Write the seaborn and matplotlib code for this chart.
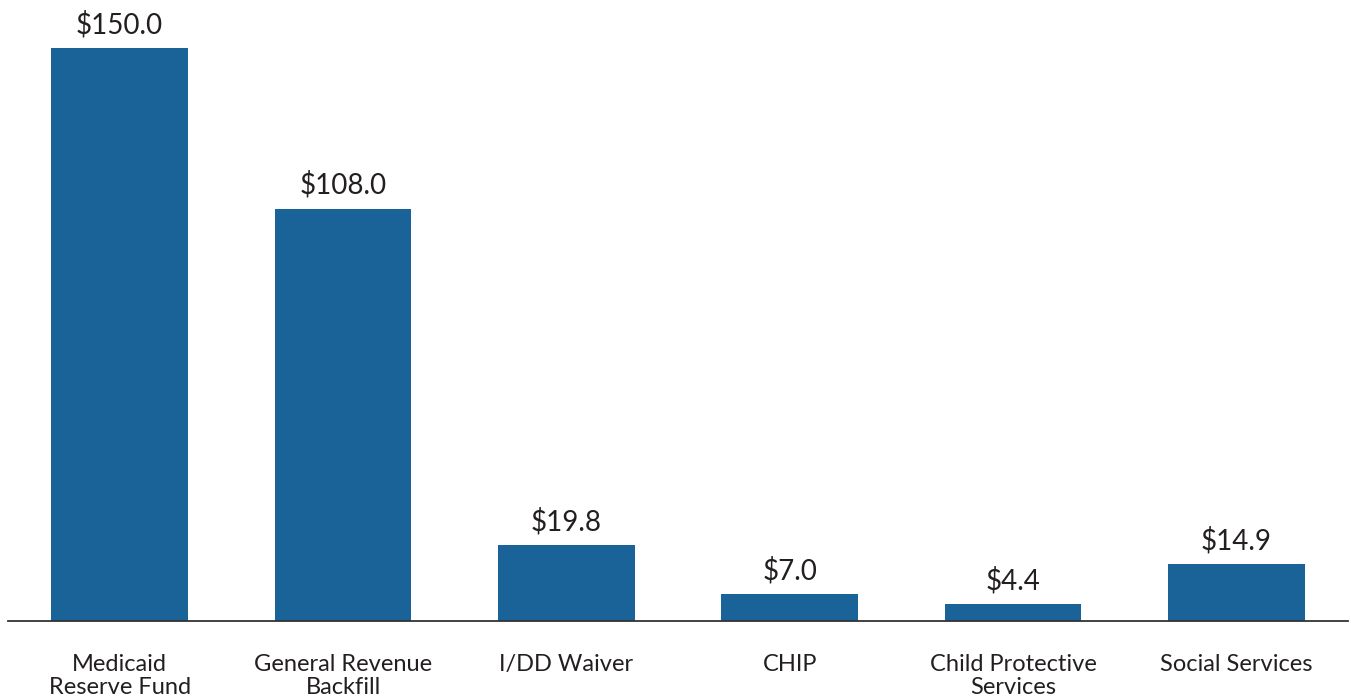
import matplotlib
matplotlib.use("Agg")
import matplotlib.pyplot as plt
import seaborn as sns
import pandas as pd

categories = ["Medicaid\nReserve Fund", "General Revenue\nBackfill", "I/DD Waiver",
              "CHIP", "Child Protective\nServices", "Social Services"]
values = [150.0, 108.0, 19.8, 7.0, 4.4, 14.9]
labels = ["$150.0", "$108.0", "$19.8", "$7.0", "$4.4", "$14.9"]

sns.set_style("white")
plt.rcParams["font.family"] = ["Lato", "DejaVu Sans"]

df = pd.DataFrame({"cat": categories, "val": values})

fig = plt.figure(figsize=(13.51, 7.0), dpi=100)
ax = fig.add_axes([8 / 1351, 79 / 700, 1340 / 1351, 621 / 700])
sns.barplot(data=df, x="cat", y="val", color="#1a6399", saturation=1,
            width=0.612, linewidth=0, ax=ax)

ax.set_xlim(-0.5, 5.5)
ax.set_ylim(0, 162.6)
for i, (v, t) in enumerate(zip(values, labels)):
    ax.annotate(t, (i, v), xytext=(0, 7), textcoords="offset points",
                ha="center", va="bottom", fontsize=20, color="#231f20")

for s in ["top", "right", "left"]:
    ax.spines[s].set_visible(False)
ax.spines["bottom"].set_color("#333333")
ax.spines["bottom"].set_linewidth(1.3)
ax.set_yticks([])
ax.set_xlabel("")
ax.set_ylabel("")
ax.tick_params(axis="x", length=0, pad=24, labelsize=17, colors="#231f20")
for lbl in ax.get_xticklabels():
    lbl.set_linespacing(1.08)
    lbl.set_va("top")

fig.savefig("out.png", dpi=100)
